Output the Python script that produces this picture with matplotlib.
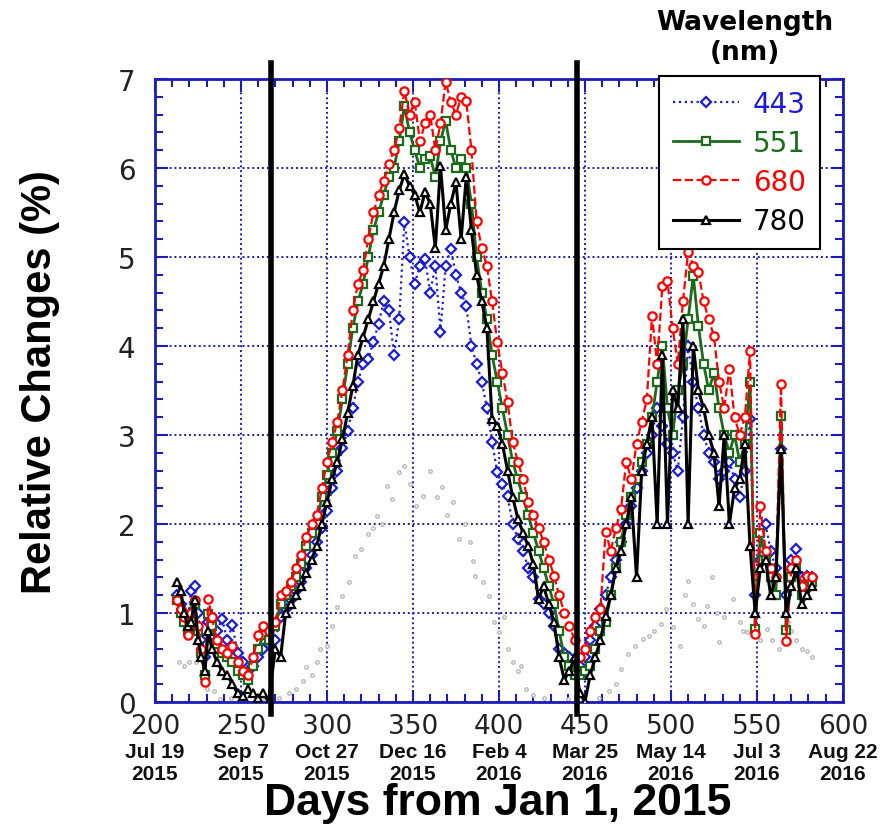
import matplotlib
matplotlib.use("Agg")
import matplotlib.pyplot as plt
from matplotlib.ticker import MultipleLocator
from matplotlib.transforms import blended_transform_factory

# ---- data: relative change (%) versus days from Jan 1, 2015 ----
days = [213, 215, 217, 219, 221, 223, 225, 227, 229, 231, 233, 236, 239, 242, 245, 248, 251, 254, 257, 260, 263, 266,
        270, 273, 276, 279, 282, 285, 288, 291, 294, 297, 300, 303, 306, 309, 312, 315, 318, 321, 324, 327, 330, 333,
        336, 339, 342, 345,
        348, 351, 354, 357, 360, 363, 366, 369, 372, 375, 378, 381, 384, 387, 390,
        393, 396, 399, 402, 405, 408, 411, 414, 417, 420, 423, 426, 429, 432, 435, 438, 441, 444,
        447, 450, 453, 456, 459, 462, 465, 468, 471, 474, 477, 480, 483, 486, 489, 492, 495, 498, 501, 504, 507, 510,
        513, 516, 519, 522, 525, 528, 531, 534, 537, 540, 543, 546, 549, 552, 555, 558, 561, 564, 567, 570, 573, 576,
        579, 582]

band_443 = [1.2, 1.1, 1.0, 0.9, 1.25, 1.3, 1.0, 0.7, 0.5, 0.9, 0.75, 0.8, 0.93, 0.7, 0.86, 0.55, 0.45, 0.35, 0.4, 0.5, 0.6, 0.65,
            0.7, 0.95, 1.05, 1.15, 1.25, 1.35, 1.5, 1.65, 1.8, 1.95, 2.15, 2.4, 2.6, 2.85, 3.05, 3.3, 3.6, 3.8, 3.85, 4.05, 4.25, 4.5,
            4.4, 3.9, 4.3, 5.39,
            5.0, 4.7, 4.9, 4.98, 4.6, 4.9, 4.16, 4.9, 5.09, 4.8, 4.6, 4.45, 4.0, 3.8, 3.6,
            3.3, 2.92, 2.58, 2.45, 2.31, 2.0, 1.83, 1.7, 1.5, 1.4, 1.16, 1.1, 1.0, 0.85, 0.6, 0.55, 0.5, 0.45,
            0.4, 0.5, 0.7, 0.85, 1.04, 1.2, 1.4, 1.6, 1.8, 2.0, 2.2, 2.4, 2.6, 2.8, 3.0, 3.3, 3.1, 2.9, 2.8, 2.6, 3.2, 4.0,
            3.6, 3.3, 3.0, 2.8, 2.7, 2.5, 2.6, 2.7, 2.5, 2.3, 2.6, 3.18, 1.2, 1.6, 2.0, 1.7, 1.5, 2.84, 1.2, 1.6, 1.72, 1.4,
            1.42, 1.4]

band_551 = [1.15, 1.0, 0.9, 0.8, 0.95, 1.1, 0.8, 0.55, 0.3, 0.99, 0.85, 0.65, 0.55, 0.5, 0.45, 0.35, 0.3, 0.25, 0.4, 0.6, 0.75, 0.7,
            0.85, 1.1, 1.2, 1.3, 1.4, 1.55, 1.75, 1.9, 2.0, 2.3, 2.55, 2.8, 3.05, 3.4, 3.8, 4.2, 4.5, 4.7, 5.0, 5.3, 5.5, 5.7,
            5.9, 6.0, 6.3, 6.7,
            6.4, 6.2, 6.0, 6.1, 6.13, 5.9, 6.3, 6.53, 6.2, 6.0, 6.1, 6.0, 5.6, 5.0, 4.6,
            4.3, 3.9, 3.6, 3.3, 3.0, 2.7, 2.5, 2.3, 2.1, 1.9, 1.7, 1.5, 1.3, 1.1, 0.8, 0.5, 0.4, 0.3,
            0.3, 0.35, 0.4, 0.6, 0.8, 0.9, 1.2, 1.5, 1.8, 2.1, 2.3, 2.5, 2.7, 2.9, 3.2, 3.6, 4.0, 3.3, 3.0, 3.5, 3.8, 4.3,
            4.79, 4.22, 3.8, 3.5, 3.7, 3.3, 3.0, 2.8, 3.0, 2.7, 2.9, 3.6, 0.82, 1.9, 1.6, 1.4, 1.2, 3.21, 0.81, 1.4, 1.5, 1.2,
            1.3, 1.35]

band_680 = [1.15, 1.05, 0.95, 0.75, 1.0, 1.15, 0.85, 0.6, 0.22, 1.16, 0.95, 0.7, 0.6, 0.55, 0.63, 0.45, 0.35, 0.3, 0.5, 0.75, 0.85, 0.8,
            0.9, 1.2, 1.25, 1.35, 1.5, 1.65, 1.85, 2.0, 2.1, 2.4, 2.7, 2.92, 3.15, 3.5, 3.9, 4.4, 4.7, 4.85, 5.2, 5.5, 5.7, 5.85,
            6.05, 6.2, 6.45, 6.87,
            6.6, 6.74, 6.3, 6.5, 6.6, 6.2, 6.5, 6.97, 6.74, 6.6, 6.8, 6.75, 6.2, 5.4, 5.1,
            4.9, 4.5, 4.04, 3.7, 3.37, 2.92, 2.7, 2.5, 2.25, 2.1, 1.95, 1.8, 1.6, 1.42, 1.2, 1.0, 0.85, 0.7,
            0.5, 0.6, 0.8, 0.95, 1.04, 1.91, 1.7, 1.95, 2.17, 2.7, 2.5, 2.9, 3.15, 3.4, 4.34, 3.8, 4.67, 4.73, 4.2, 3.8, 4.5, 5.06,
            4.9, 4.83, 4.5, 4.3, 4.11, 3.6, 3.3, 3.74, 3.2, 3.0, 3.2, 3.94, 0.76, 2.2, 1.7, 1.5, 1.4, 3.57, 0.69, 1.5, 1.6, 1.3,
            1.42, 1.4]

band_780 = [1.35, 1.25, 1.0, 0.85, 0.9, 1.15, 0.7, 0.5, 0.35, 0.8, 0.6, 0.45, 0.35, 0.3, 0.2, 0.1, 0.07, 0.15, 0.1, 0.05, 0.1, 0.0,
            0.6, 0.5, 1.0, 1.1, 1.2, 1.3, 1.45, 1.6, 1.75, 2.0, 2.25, 2.5, 2.7, 2.95, 3.25, 3.55, 3.9, 4.1, 4.3, 4.5, 4.7, 4.9,
            5.2, 5.5, 5.75, 5.93,
            5.8, 5.7, 5.5, 5.73, 5.6, 5.1, 6.02, 5.3, 5.6, 5.84, 5.2, 5.9, 5.3, 4.8, 4.5,
            4.2, 3.18, 3.1, 2.9, 2.6, 2.3, 2.06, 1.9, 1.75, 1.55, 1.16, 1.3, 1.1, 0.9, 0.5, 0.25, 0.35, 0.5,
            0.1, 0.0, 0.3, 0.5, 0.7, 0.97, 1.2, 1.5, 1.7, 2.0, 2.3, 1.4, 2.6, 2.9, 3.2, 2.0, 3.9, 2.0, 3.5, 3.3, 4.3, 2.0,
            4.0, 3.5, 3.3, 3.0, 2.8, 2.2, 3.0, 2.0, 2.4, 2.5, 2.9, 1.75, 1.0, 1.5, 1.6, 1.2, 1.4, 2.84, 1.0, 1.3, 1.5, 1.1,
            1.2, 1.3]

# reference curve drawn as faint grey points
ref_days = [214, 217, 220, 224, 227, 230, 234, 238, 244, 250, 262, 272, 278, 282, 286, 288, 291, 294, 296, 300, 303, 306,
            309, 313, 316, 320, 324, 327, 329, 332, 335, 338, 342, 345, 348, 352, 356, 360, 364, 367, 370, 373, 377, 380,
            383, 385, 386, 391, 394, 397, 400, 403, 405, 408, 411, 413, 416, 420, 426, 440, 458, 464, 468, 471, 475, 479,
            484, 487, 490, 494, 497, 501, 505, 508, 510, 513, 516, 519, 521, 524, 527, 528, 531, 536, 540, 542, 544, 548,
            552, 556, 559, 563, 568, 570, 573, 576, 579, 582]
ref_vals = [0.45, 0.4, 0.45, 0.45, 0.3, 0.15, 0.12, 0.03, 0.05, 0.02, 0.03, 0.05, 0.1, 0.15, 0.24, 0.39, 0.3, 0.45, 0.6, 0.63, 0.85, 1.07,
            1.19, 1.35, 1.64, 1.72, 1.89, 1.95, 2.09, 2.0, 2.43, 2.28, 2.58, 2.65, 2.45, 2.2, 2.31, 2.6, 2.3, 2.42, 2.1, 2.25, 1.83, 2.0,
            1.8, 1.58, 1.42, 1.35, 1.19, 0.9, 0.79, 0.95, 0.6, 0.45, 0.35, 0.4, 0.15, 0.08, 0.05, 0.03, 0.05, 0.12, 0.2, 0.37, 0.54, 0.63,
            0.71, 0.74, 0.8, 0.88, 1.05, 0.84, 0.63, 1.2, 1.36, 1.1, 0.93, 0.85, 1.08, 1.4, 1.0, 0.67, 0.95, 1.16, 0.9, 0.8, 0.79, 1.0,
            0.7, 0.82, 0.7, 0.6, 0.9, 0.8, 0.7, 0.6, 0.57, 0.5]

event_days = [267.5, 445.5]

xticks = [200, 250, 300, 350, 400, 450, 500, 550, 600]
date_months = ["Jul 19", "Sep 7", "Oct 27", "Dec 16", "Feb 4", "Mar 25", "May 14", "Jul 3", "Aug 22"]
date_years = ["2015", "2015", "2015", "2015", "2016", "2016", "2016", "2016", "2016"]

AXBLUE = "#1c1cb8"
series = [
    ("443", band_443, "#1c1cd6", ":", "D", 5, 1.6),
    ("551", band_551, "#1b6b1b", "-", "s", 6, 2.0),
    ("680", band_680, "#ff0000", "--", "o", 6, 1.6),
    ("780", band_780, "#000000", "-", "^", 6, 2.2),
]

fig = plt.figure(figsize=(8.91, 8.29), dpi=100)
ax = fig.add_axes([0.174, 0.152, 0.772, 0.7515])

ax.plot(ref_days, ref_vals, linestyle="none", marker="o", markersize=2.5,
        markerfacecolor="white", markeredgecolor="#a8a8a8", markeredgewidth=0.8, zorder=2)

handles = []
for name, vals, col, ls, mk, ms, lw in series:
    h, = ax.plot(days, vals, color=col, linestyle=ls, linewidth=lw, marker=mk, markersize=ms,
                 markerfacecolor="white", markeredgecolor=col, markeredgewidth=1.6, label=name, zorder=3)
    handles.append(h)

for d in event_days:
    ax.axvline(d, ymin=-0.02, ymax=1.025, color="black", linewidth=4, clip_on=False, zorder=5)

ax.set_xlim(200, 600)
ax.set_ylim(0, 7)
ax.xaxis.set_major_locator(MultipleLocator(50))
ax.xaxis.set_minor_locator(MultipleLocator(10))
ax.yaxis.set_major_locator(MultipleLocator(1))
ax.yaxis.set_minor_locator(MultipleLocator(0.2))
ax.grid(True, which="major", color=AXBLUE, linestyle=(0, (1, 1.5)), linewidth=1.4, zorder=1)
ax.set_axisbelow(True)

for sp in ax.spines.values():
    sp.set_color(AXBLUE)
    sp.set_linewidth(2)
ax.tick_params(which="both", direction="in", top=True, right=True, color=AXBLUE, width=1.5)
ax.tick_params(which="major", length=9)
ax.tick_params(which="minor", length=6)
ax.tick_params(axis="x", which="major", pad=8, labelsize=19, labelcolor="#222222")
ax.tick_params(axis="y", which="major", pad=14, labelsize=20, labelcolor="#222222")
ax.set_xticks(xticks)
ax.set_xticklabels([str(t) for t in xticks], fontfamily="DejaVu Sans")
for lab in ax.get_yticklabels():
    lab.set_fontfamily("DejaVu Sans")

trans = blended_transform_factory(ax.transData, ax.transAxes)
for t, mo, yr in zip(xticks, date_months, date_years):
    ax.text(t, -0.079, mo, transform=trans, ha="center", va="center", fontsize=15,
            fontweight="bold", family="Liberation Sans", color="#111111")
    ax.text(t, -0.114, yr, transform=trans, ha="center", va="center", fontsize=15,
            fontweight="bold", family="Liberation Sans", color="#111111")

fig.text(40 / 891, 1 - 382 / 829, "Relative Changes (%)", rotation=90, ha="center", va="center",
         fontsize=30, fontweight="bold", family="Liberation Sans")
fig.text(498 / 891, 1 - 804 / 829, "Days from Jan 1, 2015", ha="center", va="center",
         fontsize=32, fontweight="bold", family="Liberation Sans")

leg = ax.legend(handles=handles, loc="upper right", bbox_to_anchor=(820 / 891, 1 - 77 / 829),
                bbox_transform=fig.transFigure, borderaxespad=0, fancybox=False, framealpha=1,
                edgecolor="black", numpoints=1, handlelength=2.4, handletextpad=0.5, labelspacing=0.4,
                borderpad=0.5, prop={"family": "DejaVu Sans", "size": 20})
leg.get_frame().set_linewidth(1.5)
leg.set_zorder(10)
for txt, (_, _, col, *_rest) in zip(leg.get_texts(), series):
    txt.set_color(col)

fig.text(745 / 891, 1 - 38 / 829, "Wavelength\n(nm)", ha="center", va="center", fontsize=19,
         fontweight="bold", family="DejaVu Sans", linespacing=1.25)

fig.savefig("out.png", dpi=100)
